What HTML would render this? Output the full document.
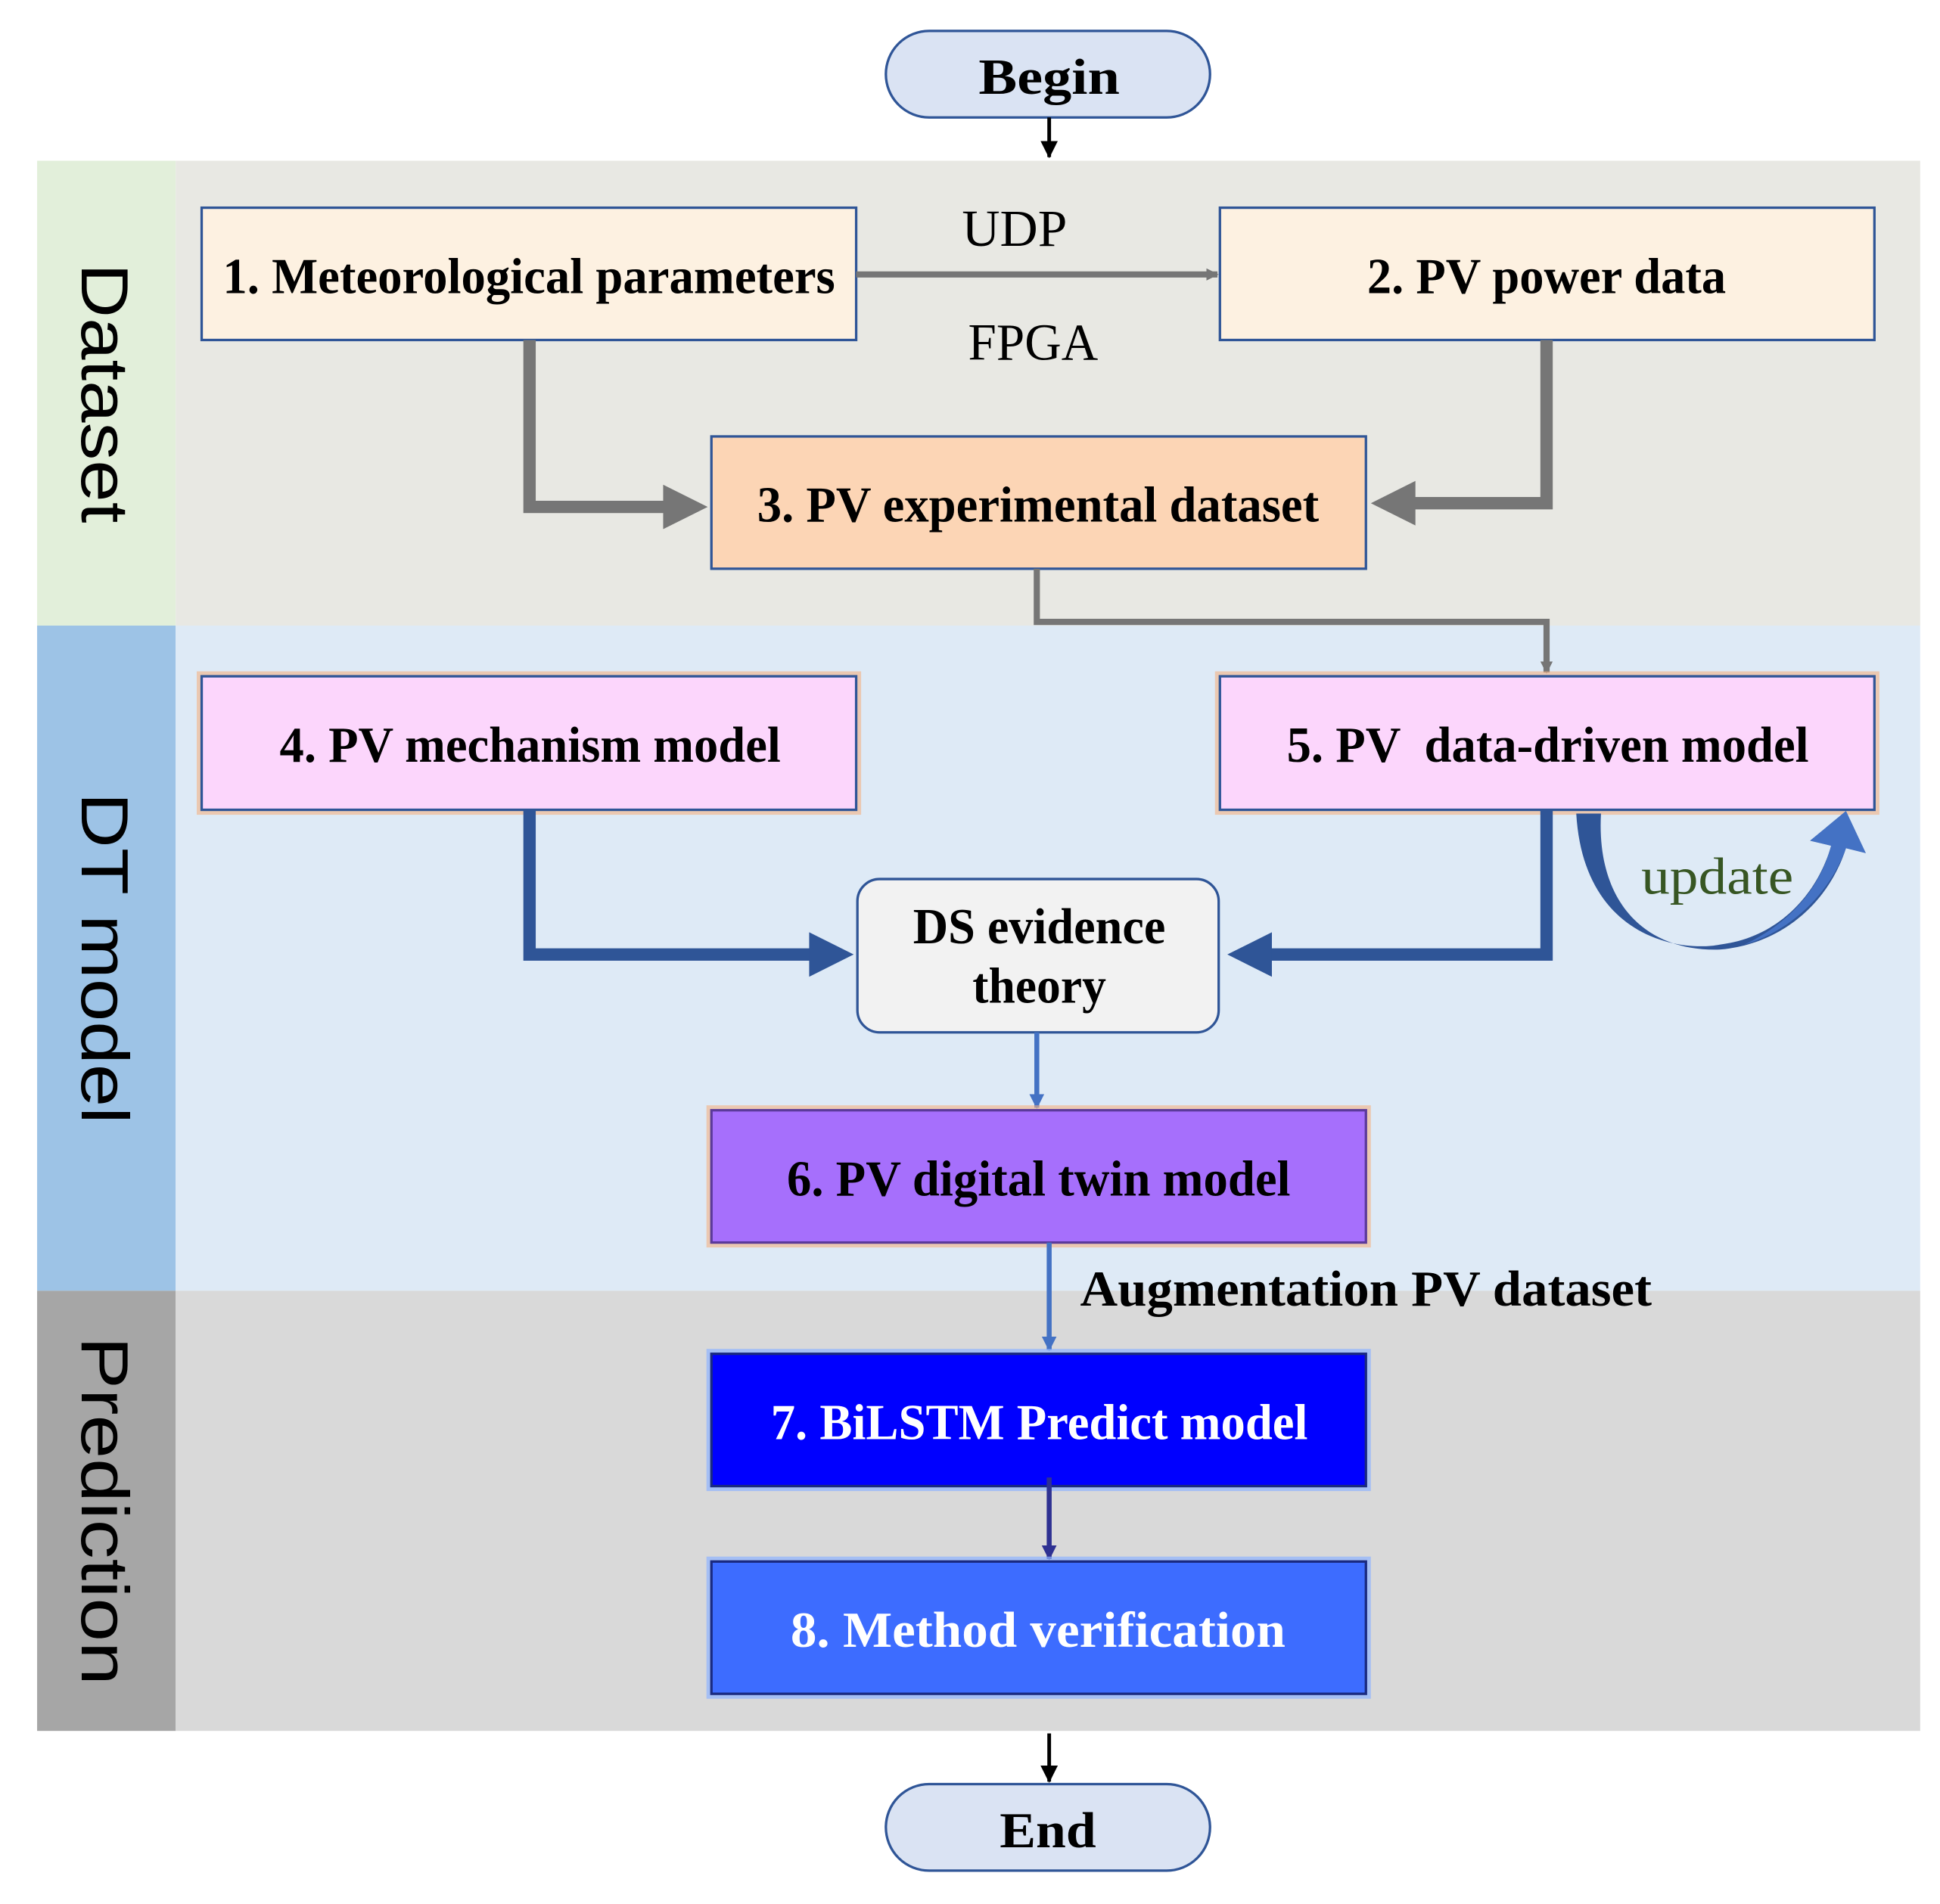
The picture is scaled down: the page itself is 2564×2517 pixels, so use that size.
<!DOCTYPE html>
<html><head><meta charset="utf-8">
<style>
html,body{margin:0;padding:0;background:#fff;}
svg{display:block;}
.t{font-family:"Liberation Serif",serif;font-weight:bold;font-size:41px;fill:#000;}
.s{font-family:"Liberation Sans",sans-serif;font-size:54px;fill:#000;}
</style></head>
<body>
<svg width="2564" height="2517" viewBox="0 0 1568 1540" preserveAspectRatio="none" xmlns="http://www.w3.org/2000/svg">
<defs>
<marker id="ag" markerWidth="10" markerHeight="10" refX="9" refY="5" orient="auto" markerUnits="userSpaceOnUse"><path d="M0,0 L10,5 L0,10 Z" fill="#767676"/></marker>
<marker id="ab" markerWidth="12" markerHeight="12" refX="11" refY="6" orient="auto" markerUnits="userSpaceOnUse"><path d="M0,0 L12,6 L0,12 Z" fill="#4472c4"/></marker>
<marker id="ad" markerWidth="12" markerHeight="12" refX="11" refY="6" orient="auto" markerUnits="userSpaceOnUse"><path d="M0,0 L12,6 L0,12 Z" fill="#2e3192"/></marker>
<marker id="ak" markerWidth="14" markerHeight="14" refX="13" refY="7" orient="auto" markerUnits="userSpaceOnUse"><path d="M0,0 L14,7 L0,14 Z" fill="#000"/></marker>
</defs>

<rect x="30" y="130" width="112" height="376" fill="#e2efda"/>
<rect x="142" y="130" width="1410" height="376" fill="#e8e8e3"/>
<rect x="30" y="506" width="112" height="538" fill="#9dc3e6"/>
<rect x="142" y="506" width="1410" height="538" fill="#deeaf6"/>
<rect x="30" y="1044" width="112" height="356" fill="#a6a6a6"/>
<rect x="142" y="1044" width="1410" height="356" fill="#d9d9d9"/>

<text class="s" transform="translate(66,318) rotate(90)" text-anchor="middle" textLength="210" lengthAdjust="spacingAndGlyphs">Dataset</text>
<text class="s" transform="translate(66,775) rotate(90)" text-anchor="middle" textLength="268" lengthAdjust="spacingAndGlyphs">DT model</text>
<text class="s" transform="translate(66,1222) rotate(90)" text-anchor="middle" textLength="282" lengthAdjust="spacingAndGlyphs">Prediction</text>

<rect x="716" y="25" width="262" height="70" rx="35" fill="#dae3f3" stroke="#2f5597" stroke-width="2"/>
<text class="t" x="848" y="76" text-anchor="middle" font-size="46" textLength="114" lengthAdjust="spacingAndGlyphs">Begin</text>
<line x1="848" y1="95" x2="848" y2="127" stroke="#000" stroke-width="3" marker-end="url(#ak)"/>

<rect x="163" y="168" width="529" height="107" fill="#fdf1e1" stroke="#2f5597" stroke-width="2"/>
<text class="t" x="180" y="237" textLength="495" lengthAdjust="spacingAndGlyphs">1. Meteorological parameters</text>
<rect x="986" y="168" width="529" height="107" fill="#fdf1e1" stroke="#2f5597" stroke-width="2"/>
<text class="t" x="1105" y="237" textLength="290" lengthAdjust="spacingAndGlyphs">2. PV power data</text>
<line x1="692" y1="222" x2="984" y2="222" stroke="#767676" stroke-width="5" marker-end="url(#ag)"/>
<text x="820" y="199" text-anchor="middle" font-family="Liberation Serif,serif" font-size="42" textLength="85" lengthAdjust="spacingAndGlyphs">UDP</text>
<text x="835" y="291" text-anchor="middle" font-family="Liberation Serif,serif" font-size="42" textLength="105" lengthAdjust="spacingAndGlyphs">FPGA</text>

<rect x="575" y="353" width="529" height="107" fill="#fcd5b5" stroke="#2f5597" stroke-width="2"/>
<text class="t" x="612" y="422" textLength="454" lengthAdjust="spacingAndGlyphs">3. PV experimental dataset</text>
<polyline points="428,275 428,410 540,410" fill="none" stroke="#767676" stroke-width="10"/>
<path d="M536,392 L572,410 L536,428 Z" fill="#767676"/>
<polyline points="1250,275 1250,407 1140,407" fill="none" stroke="#767676" stroke-width="10"/>
<path d="M1144,389 L1108,407 L1144,425 Z" fill="#767676"/>
<polyline points="838,460 838,503 1250,503 1250,544" fill="none" stroke="#767676" stroke-width="5" marker-end="url(#ag)"/>

<rect x="163" y="547" width="529" height="108" fill="none" stroke="#f4b183" stroke-width="8" opacity="0.6"/>
<rect x="163" y="547" width="529" height="108" fill="#fcd6fc" stroke="#2f5597" stroke-width="2"/>
<text class="t" x="226" y="616" textLength="405" lengthAdjust="spacingAndGlyphs">4. PV mechanism model</text>
<rect x="986" y="547" width="529" height="108" fill="none" stroke="#f4b183" stroke-width="8" opacity="0.6"/>
<rect x="986" y="547" width="529" height="108" fill="#fcd6fc" stroke="#2f5597" stroke-width="2"/>
<text class="t" x="1040" y="616" textLength="422" lengthAdjust="spacingAndGlyphs" xml:space="preserve">5. PV  data-driven model</text>

<polyline points="428,655 428,772 658,772" fill="none" stroke="#2f5597" stroke-width="10"/>
<path d="M654,754 L690,772 L654,790 Z" fill="#2f5597"/>
<polyline points="1250,655 1250,772 1024,772" fill="none" stroke="#2f5597" stroke-width="10"/>
<path d="M1028,754 L992,772 L1028,790 Z" fill="#2f5597"/>

<path d="M1274,658 C1280,760 1360,770 1390,764 C1440,758 1470,720 1480,684 L1463,680 L1492,656 L1508,690 L1492,686 C1478,730 1440,764 1390,768 C1330,770 1290,730 1294,658 Z" fill="#2f5597"/>
<path d="M1480,684 L1463,680 L1492,656 L1508,690 L1492,686 C1480,720 1450,752 1410,764 C1450,745 1472,715 1480,684 Z" fill="#4472c4"/>
<text x="1388" y="723" text-anchor="middle" font-family="Liberation Serif,serif" font-size="42" fill="#375623" textLength="123" lengthAdjust="spacingAndGlyphs">update</text>

<rect x="693" y="711" width="292" height="124" rx="18" fill="#f2f2f2" stroke="#2f5597" stroke-width="2"/>
<text class="t" x="840" y="763" text-anchor="middle" textLength="204" lengthAdjust="spacingAndGlyphs">DS evidence</text>
<text class="t" x="840" y="811" text-anchor="middle" textLength="108" lengthAdjust="spacingAndGlyphs">theory</text>
<line x1="838" y1="835" x2="838" y2="896" stroke="#4472c4" stroke-width="4" marker-end="url(#ab)"/>

<rect x="575" y="898" width="529" height="107" fill="none" stroke="#f4b183" stroke-width="8" opacity="0.6"/>
<rect x="575" y="898" width="529" height="107" fill="#a66ffc" stroke="#5b3a9a" stroke-width="2"/>
<text class="t" x="636" y="967" textLength="407" lengthAdjust="spacingAndGlyphs">6. PV digital twin model</text>
<line x1="848" y1="1005" x2="848" y2="1092" stroke="#4472c4" stroke-width="4" marker-end="url(#ab)"/>
<text class="t" x="873" y="1056" textLength="462" lengthAdjust="spacingAndGlyphs">Augmentation PV dataset</text>

<rect x="575" y="1095" width="529" height="107" fill="none" stroke="#8fb4ff" stroke-width="8" opacity="0.7"/>
<rect x="575" y="1095" width="529" height="107" fill="#0000ff" stroke="#1a2a80" stroke-width="2"/>
<text class="t" x="623" y="1164" style="fill:#fff" textLength="434" lengthAdjust="spacingAndGlyphs">7. BiLSTM Predict model</text>
<line x1="848" y1="1195" x2="848" y2="1261" stroke="#2e3192" stroke-width="4" marker-end="url(#ad)"/>

<rect x="575" y="1263" width="529" height="107" fill="none" stroke="#8fb4ff" stroke-width="8" opacity="0.7"/>
<rect x="575" y="1263" width="529" height="107" fill="#3d6cff" stroke="#1a2a80" stroke-width="2"/>
<text class="t" x="639" y="1332" style="fill:#fff" textLength="400" lengthAdjust="spacingAndGlyphs">8. Method verification</text>

<line x1="848" y1="1402" x2="848" y2="1441" stroke="#000" stroke-width="3" marker-end="url(#ak)"/>
<rect x="716" y="1443" width="262" height="70" rx="35" fill="#dae3f3" stroke="#2f5597" stroke-width="2"/>
<text class="t" x="847" y="1494" text-anchor="middle" font-size="46" textLength="78" lengthAdjust="spacingAndGlyphs">End</text>
</svg>
</body></html>
